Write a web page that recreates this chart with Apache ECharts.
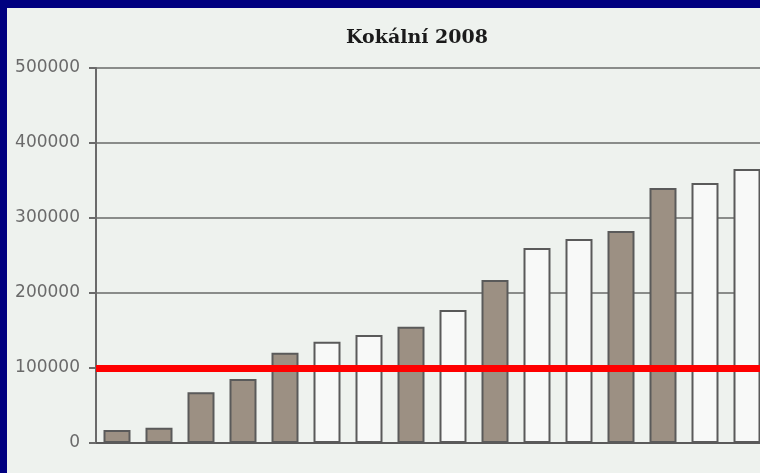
<!DOCTYPE html>
<html>
<head>
<meta charset="utf-8">
<script src="https://cdn.jsdelivr.net/npm/echarts@6/dist/echarts.min.js"></script>
<style>
  html, body { margin: 0; padding: 0; width: 760px; height: 473px; background: #000080; overflow: hidden; position: relative; }
  #main { position: absolute; left: 7px; top: 8px; width: 761px; height: 465px; background: #eef2ee; }
</style>
</head>
<body>
<div id="main"></div>
<script>
const titleText = 'Kokální 2008';
const categories = ['1','2','3','4','5','6','7','8','9','10','11','12','13','14','15','16'];
const values = [17300, 20400, 67600, 85300, 120400, 135000, 144000, 155000, 177300, 217300, 260000, 272000, 282700, 340000, 346700, 365300];
const kinds = ['filled','filled','filled','filled','filled','open','open','filled','open','filled','open','open','filled','filled','open','open'];
const threshold = 100000;
const yTicks = [0, 100000, 200000, 300000, 400000, 500000];

const FILL = { filled: '#9c9083', open: '#f8f9f8' };

const chart = echarts.init(document.getElementById('main'), null, { renderer: 'canvas' });
chart.setOption({
  animation: false,
  backgroundColor: 'transparent',
  title: {
    text: titleText,
    left: 405,
    top: 16,
    textAlign: 'center',
    textStyle: { fontFamily: 'DejaVu Serif', fontWeight: 'bold', fontSize: 19, color: '#1a1a1a' }
  },
  grid: { left: 89, right: 0, top: 60, bottom: 30, containLabel: false },
  xAxis: {
    type: 'category',
    data: categories,
    axisLine: { show: true, lineStyle: { color: '#5a5a5a', width: 2 } },
    axisTick: { show: false },
    axisLabel: { show: false },
    splitLine: { show: false }
  },
  yAxis: {
    type: 'value',
    min: yTicks[0],
    max: yTicks[yTicks.length - 1],
    interval: yTicks[1] - yTicks[0],
    axisLine: { show: true, lineStyle: { color: '#6a6a6a', width: 2 } },
    axisTick: { show: true, length: 7, lineStyle: { color: '#6a6a6a', width: 2 } },
    axisLabel: { margin: 16, fontFamily: 'DejaVu Sans', fontSize: 17, color: '#6a6a6a', formatter: v => String(v) },
    splitLine: { show: true, lineStyle: { color: '#8a8c8a', width: 2 } }
  },
  series: [{
    type: 'bar',
    barWidth: 27,
    data: values.map((v, i) => ({
      value: v,
      itemStyle: { color: FILL[kinds[i]], borderColor: '#5a5a5a', borderWidth: 2 }
    })),
    markLine: {
      silent: true,
      symbol: ['none', 'none'],
      label: { show: false },
      lineStyle: { color: '#ff0000', width: 7, type: 'solid' },
      data: [{ yAxis: threshold }]
    }
  }]
});
</script>
</body>
</html>
